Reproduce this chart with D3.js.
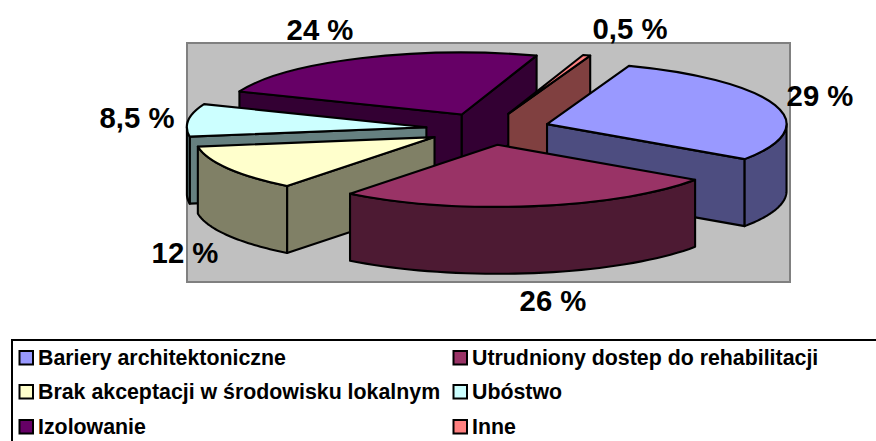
<!DOCTYPE html>
<html><head><meta charset="utf-8">
<script src="https://cdn.jsdelivr.net/npm/d3@7/dist/d3.min.js"></script>
<style>html,body{margin:0;padding:0;background:#fff}svg{display:block}text{font-family:"Liberation Sans",Arial,sans-serif;font-weight:bold;fill:#000}</style>
</head><body><script>
const categories=["Bariery architektoniczne","Utrudniony dostep do rehabilitacji","Brak akceptacji w środowisku lokalnym","Ubóstwo","Izolowanie","Inne"];
const values=[29,26,12,8.5,24,0.5];
const topColors=["#9999FF","#993366","#FFFFCC","#CCFFFF","#660066","#FF8080"];
const sideColors=["#4D4D80","#4D1A33","#808066","#668080","#330033","#804040"];
const labelCenters=[[820,96],[553,301],[185,253],[137,118],[320,30],[630,29]];
const drawOrder=[4,5,0,3,2,1];
const W=876,H=441,cx=488,cy=129,Rx=239.5,Ry=62,depth=67,explodeX=62,explodeY=16;
const rad=Math.PI/180;
const svg=d3.select("body").append("svg").attr("width",W).attr("height",H);
svg.append("rect").attr("x",187).attr("y",43).attr("width",603).attr("height",239).attr("fill","#C0C0C0").attr("stroke","#808080").attr("stroke-width",2);
const arcs=d3.pie().sort(null).value(d=>d).startAngle(20*rad).endAngle(380*rad)(values);
const arc=d3.arc().innerRadius(0).outerRadius(Rx);
const line=d3.line();
const g=svg.append("g");
const style=(s,fill)=>s.attr("fill",fill).attr("stroke","#000").attr("stroke-width",2.1).attr("stroke-linejoin","round");
drawOrder.forEach(i=>{
  const a=arcs[i],mid=(a.startAngle+a.endAngle)/2;
  const ax=cx+explodeX*Math.sin(mid),ay=cy-explodeY*Math.cos(mid);
  const rim=t=>[ax+Rx*Math.sin(t),ay-Ry*Math.cos(t)];
  const wall=t=>{const p=rim(t);return line([[ax,ay],p,[p[0],p[1]+depth],[ax,ay+depth]])+"Z";};
  if(Math.sin(a.startAngle)<0) style(g.append("path").attr("d",wall(a.startAngle)),sideColors[i]);
  if(Math.sin(a.endAngle)>0) style(g.append("path").attr("d",wall(a.endAngle)),sideColors[i]);
  const t0=Math.max(a.startAngle,90*rad),t1=Math.min(a.endAngle,270*rad);
  if(t1>t0){
    const ts=d3.range(0,41).map(k=>t0+(t1-t0)*k/40);
    const top=ts.map(rim),bot=ts.slice().reverse().map(t=>{const p=rim(t);return [p[0],p[1]+depth];});
    style(g.append("path").attr("d",line(top.concat(bot))+"Z"),sideColors[i]);
  }
  style(g.append("path").attr("d",arc(a)).attr("transform",`translate(${ax},${ay}) scale(1,${Ry/Rx})`).attr("vector-effect","non-scaling-stroke"),topColors[i]);
});
svg.selectAll("text.v").data(values).join("text").attr("class","v")
  .attr("x",(d,i)=>labelCenters[i][0]).attr("y",(d,i)=>labelCenters[i][1]+10)
  .attr("text-anchor","middle").attr("font-size",29.3)
  .text(d=>String(d).replace(".",",")+" %");
svg.append("rect").attr("x",12).attr("y",340).attr("width",W+20).attr("height",H+20).attr("fill","none").attr("stroke","#000").attr("stroke-width",2);
const legX=[19,453],legY=[358,392,427];
categories.forEach((c,i)=>{
  const x=legX[i%2],y=legY[Math.floor(i/2)];
  svg.append("rect").attr("x",x+0.5).attr("y",y-7).attr("width",13.5).attr("height",13.5).attr("fill",topColors[i]).attr("stroke","#000").attr("stroke-width",2);
  svg.append("text").attr("x",x+19).attr("y",y+7).attr("font-size",21.35).text(c);
});
</script></body></html>
